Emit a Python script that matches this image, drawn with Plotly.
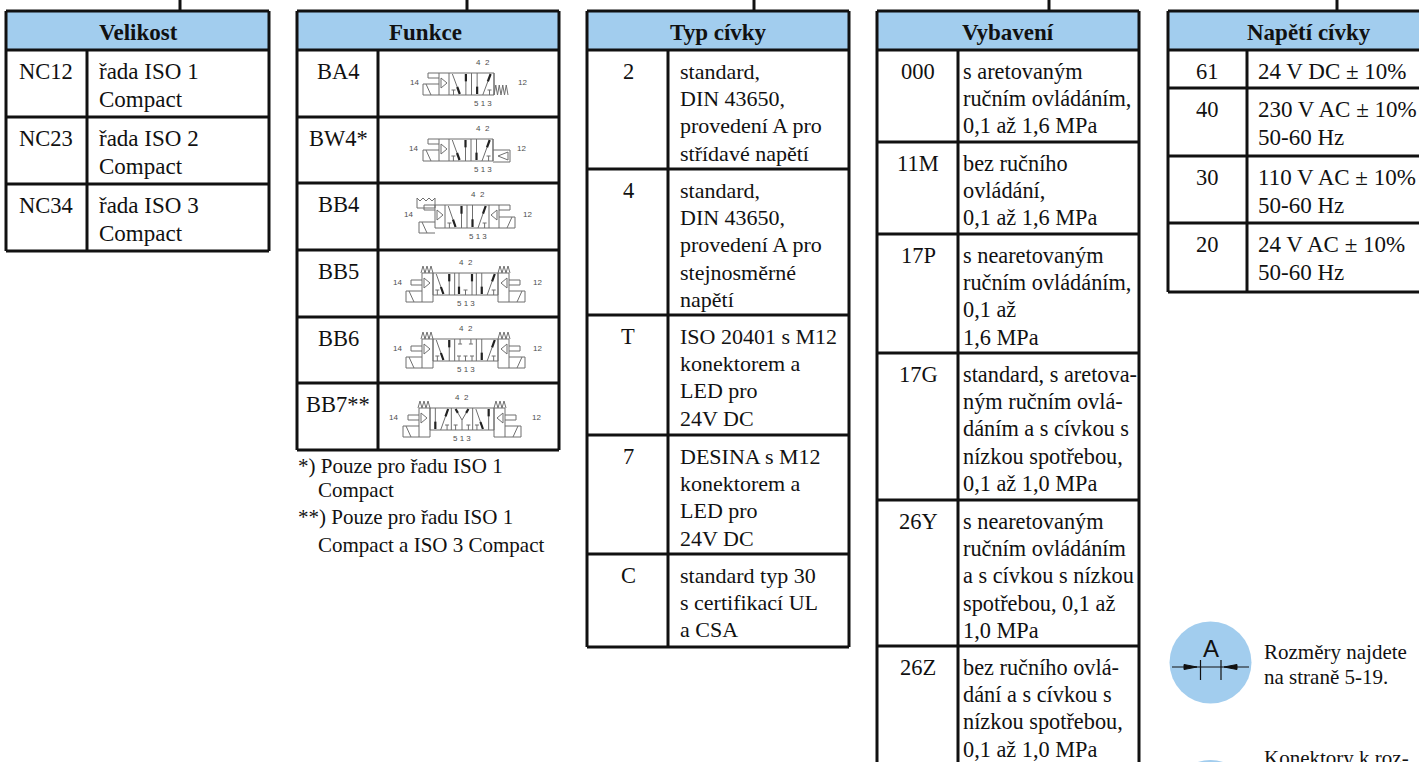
import plotly.graph_objects as go

W, H = 1419, 762
BLUE = "#a2cdee"
INK = "#111111"
GREY = "#6f6f6f"
SERIF = "Liberation Serif"

# ---- table content ----
velikost_codes = ["NC12", "NC23", "NC34"]
velikost_text = [["řada ISO 1", "Compact"], ["řada ISO 2", "Compact"], ["řada ISO 3", "Compact"]]
funkce_codes = ["BA4", "BW4*", "BB4", "BB5", "BB6", "BB7**"]
typ_codes = ["2", "4", "T", "7", "C"]
typ_text = [
    ["standard,", "DIN 43650,", "provedení A pro", "střídavé napětí"],
    ["standard,", "DIN 43650,", "provedení A pro", "stejnosměrné", "napětí"],
    ["ISO 20401 s M12", "konektorem a", "LED pro", "24V DC"],
    ["DESINA s M12", "konektorem a", "LED pro", "24V DC"],
    ["standard typ 30", "s certifikací UL", "a CSA"],
]
vybaveni_codes = ["000", "11M", "17P", "17G", "26Y", "26Z"]
vybaveni_text = [
    ["s aretovaným", "ručním ovládáním,", "0,1 až 1,6 MPa"],
    ["bez ručního", "ovládání,", "0,1 až 1,6 MPa"],
    ["s nearetovaným", "ručním ovládáním,", "0,1 až", "1,6 MPa"],
    ["standard, s aretova-", "ným ručním ovlá-", "dáním a s cívkou s", "nízkou spotřebou,", "0,1 až 1,0 MPa"],
    ["s nearetovaným", "ručním ovládáním", "a s cívkou s nízkou", "spotřebou, 0,1 až", "1,0 MPa"],
    ["bez ručního ovlá-", "dání a s cívkou s", "nízkou spotřebou,", "0,1 až 1,0 MPa"],
]
napeti_codes = ["61", "40", "30", "20"]
napeti_text = [
    ["24 V DC ± 10%"],
    ["230 V AC ± 10%", "50-60 Hz"],
    ["110 V AC ± 10%", "50-60 Hz"],
    ["24 V AC ± 10%", "50-60 Hz"],
]
footnotes = ["*) Pouze pro řadu ISO 1", "Compact", "**) Pouze pro řadu ISO 1", "Compact a ISO 3 Compact"]
side_notes = [["Rozměry najdete", "na straně 5-19."], ["Konektory k roz-"]]

# ---- layout constants ----
TABLES = [
    dict(title="Velikost", x0=6, x1=269, split=87, rows=[50, 117, 184, 251], tick=180, tc=138, cc=46, size=23,
         codes=velikost_codes, text=velikost_text, tx=98, pitch=28),
    dict(title="Funkce", x0=297, x1=559, split=378, rows=[50, 117, 183, 250, 317, 383, 450], tick=467, tc=425, cc=338, size=22,
         codes=funkce_codes, text=None, tx=0, pitch=0),
    dict(title="Typ cívky", x0=587, x1=849, split=668, rows=[50, 169, 315, 435, 554, 647], tick=754, tc=718, cc=628, size=22,
         codes=typ_codes, text=typ_text, tx=679, pitch=27.2),
    dict(title="Vybavení", x0=877, x1=1139, split=958, rows=[50, 142, 234, 353, 500, 646, 790], tick=1049, tc=1008, cc=918, size=22.3,
         codes=vybaveni_codes, text=vybaveni_text, tx=962, pitch=27.2),
    dict(title="Napětí cívky", x0=1168, x1=1440, split=1247, rows=[50, 88, 156, 223, 292], tick=1337, tc=1309, cc=1207, size=23,
         codes=napeti_codes, text=napeti_text, tx=1257, pitch=28),
]
HEAD_SIZE = 23
CODE_SIZE = 22.5
NOTE_SIZE = 21

shapes, annos = [], []


def line(x0, y0, x1, y1, w=3, c=INK):
    shapes.append(dict(type="line", xref="x", yref="y", x0=x0, y0=y0, x1=x1, y1=y1,
                       line=dict(color=c, width=w)))


def text(x, y, s, size=22, anchor="left", bold=False, color=INK, family=SERIF):
    t = f"<b>{s}</b>" if bold else s
    annos.append(dict(x=x, y=y, xref="x", yref="y", text=t, showarrow=False, xanchor=anchor,
                      yanchor="middle", align=anchor, borderpad=0,
                      font=dict(family=family, size=size, color=color)))


for t in TABLES:
    rows = t["rows"]
    bottom = min(rows[-1], H + 10)
    shapes.append(dict(type="rect", xref="x", yref="y", x0=t["x0"], x1=t["x1"], y0=11, y1=rows[0],
                       fillcolor=BLUE, line=dict(width=0), layer="below"))
    line(t["tick"], -2, t["tick"], 11)
    line(t["x0"], 11, t["x1"], 11)
    line(t["x0"], 11, t["x0"], bottom)
    line(t["x1"], 11, t["x1"], bottom)
    line(t["split"], rows[0], t["split"], bottom)
    for y in rows:
        line(t["x0"], y, t["x1"], y)
    text(t["tc"], 32, t["title"], size=HEAD_SIZE, anchor="center", bold=True)
    for i, code in enumerate(t["codes"]):
        top = rows[i]
        text(t["cc"], top + 21.5, code, size=CODE_SIZE, anchor="center")
        if t["text"]:
            for j, s in enumerate(t["text"][i]):
                text(t["tx"], top + 21.5 + j * t["pitch"], s, size=t["size"])

# ---- valve symbols in Funkce ----
vx, vy = [], []
ax, ay = [], []


def seg(*pts):
    for p in pts:
        vx.append(p[0]); vy.append(p[1])
    vx.append(None); vy.append(None)


def arrow(x0, y0, x1, y1):
    seg((x0, y0), (x1, y1))
    ax.extend([x1 - (x1 - x0) * 0.35, x1, None]); ay.extend([y1 - (y1 - y0) * 0.35, y1, None])


def port(x, bot):
    seg((x - 2, bot - 5), (x + 2, bot - 5))
    seg((x, bot - 5), (x, bot))


def cell_cross(x, w, top, bot):
    arrow(x + w * 0.15, top + 1, x + w * 0.48, bot - 1)
    port(x + w * 0.2, bot)
    arrow(x + w * 0.75, bot, x + w * 0.75, top + 1)


def cell_cross_r(x, w, top, bot):
    arrow(x + w * 0.25, top, x + w * 0.25, bot - 1)
    arrow(x + w * 0.5, bot, x + w * 0.85, top + 1)
    port(x + w * 0.8, bot)


def cell_mid(x, w, top, bot, kind):
    if kind == "open":
        arrow(x + w * 0.2, top, x + w * 0.2, bot - 1)
        arrow(x + w * 0.8, bot, x + w * 0.8, top + 1)
        port(x + w * 0.5, bot)
    elif kind == "closed":
        for f in (0.25, 0.75):
            seg((x + w * f, top), (x + w * f, top + 5))
            seg((x + w * f - 2, top + 5), (x + w * f + 2, top + 5))
        for f in (0.2, 0.5, 0.8):
            port(x + w * f, bot)
    else:
        arrow(x + w * 0.5, bot - 10, x + w * 0.2, top + 1)
        arrow(x + w * 0.5, bot - 10, x + w * 0.8, top + 1)
        seg((x + w * 0.5, bot), (x + w * 0.5, bot - 10))
        port(x + w * 0.2, bot); port(x + w * 0.8, bot)


def zigzag(x0, x1, y0, y1, n=4):
    dx = (x1 - x0) / (2 * n)
    seg(*[(x0 + k * dx, y1 if k % 2 else y0) for k in range(2 * n + 1)])


def actuator(edge, s, top, bot, blk, sol_w, low, spring):
    """Pilot + solenoid beside a body edge; s=-1 left, s=+1 right."""
    e = edge
    if blk:
        seg((e, top), (e + s * blk, top), (e + s * blk, bot + low), (e, bot + low), (e, bot))
        e = e + s * blk
        py0, py1 = top + 7, top + 12
        base = e - s * 2
    else:
        py0, py1 = top, top + 5
        base = edge - s * 2
    far = e + s * sol_w
    seg((e, bot + low), (far, bot + low), (far, bot + low - 11), (e, bot + low - 11))
    seg((far - s * 8, bot + low), (far - s * 3, bot + low - 11))
    seg((e, py0), (e + s * (sol_w - 5), py0), (e + s * (sol_w - 5), py1), (e, py1))
    tip = base - s * 6
    mid = top + 10
    seg((base, mid - 5), (tip, mid), (base, mid + 5), (base, mid - 5))
    if spring:
        zigzag(edge + s * 12, edge, top, top - 7, 3)


def valve(x0, x1, top, bot, cells, left_blk, right, sp, lab, l14, r12, crown=False):
    seg((x0, top), (x1, top), (x1, bot), (x0, bot), (x0, top))
    narrow = 0 if left_blk else 10
    ix0 = x0 + narrow
    ix1 = x1 - (narrow if right == "solenoid" else 0)
    seg((ix0, top), (ix0, bot))
    seg((ix1, top), (ix1, bot))
    n = len(cells)
    w = (ix1 - ix0) / n
    for k, kind in enumerate(cells):
        c = ix0 + k * w
        if k:
            seg((c, top), (c, bot))
        if kind == "L":
            cell_cross(c, w, top, bot)
        elif kind == "R":
            cell_cross_r(c, w, top, bot)
        else:
            cell_mid(c, w, top, bot, kind)
    actuator(x0, -1, top, bot, left_blk, 16, 5 if crown else (7 if left_blk else 0), sp)
    if right == "spring":
        zigzag(x1, x1 + 14, bot, bot - 10, 4)
    elif right == "air":
        seg((x1, bot - 11), (x1 + 17, bot - 11), (x1 + 17, bot + 1), (x1, bot + 1))
        seg((x1 + 15, bot - 9), (x1 + 5, bot - 5), (x1 + 15, bot - 1), (x1 + 15, bot - 9))
    else:
        actuator(x1, 1, top, bot, left_blk, 16, 7 if left_blk else 0, sp)
    if crown:
        bx = x0 - 18
        seg((bx, top + 3), (x0, top + 3), (x0, top - 7), (x0 - 3, top - 4), (x0 - 6, top - 7), (x0 - 9, top - 4),
            (x0 - 12, top - 7), (x0 - 15, top - 4), (bx, top - 7), (bx, top + 3))
    c = "#4d4d4d"
    f = "Liberation Sans"
    text(lab, top - 11, "4  2", size=8, anchor="center", color=c, family=f)
    text(lab, bot + 8, "5 1 3", size=8, anchor="center", color=c, family=f)
    text(l14, (top + bot) / 2 - 2, "14", size=8, anchor="center", color=c, family=f)
    text(r12, (top + bot) / 2 - 2, "12", size=8, anchor="center", color=c, family=f)


valve(439, 494, 73, 95, ["L", "R"], 0, "spring", False, 483, 414, 522)
valve(439, 493, 139, 161, ["L", "R"], 0, "air", False, 483, 413, 521)
valve(435, 499, 205, 228, ["L", "R"], 0, "solenoid", False, 478, 408, 527, crown=True)
valve(433, 498, 273, 295, ["L", "open", "R"], 11, "solenoid", True, 466, 397, 537)
valve(433, 498, 339, 361, ["L", "closed", "R"], 11, "solenoid", True, 466, 397, 537)
valve(430, 494, 408, 430, ["R", "tee", "L"], 11, "solenoid", True, 462, 393, 536)

fig = go.Figure()
fig.add_trace(go.Scatter(x=vx, y=vy, mode="lines", line=dict(color=GREY, width=1), hoverinfo="skip", showlegend=False))
fig.add_trace(go.Scatter(x=ax, y=ay, mode="lines", line=dict(color="#222222", width=2.2), hoverinfo="skip", showlegend=False))

# ---- footnotes ----
text(297, 466, footnotes[0], size=NOTE_SIZE)
text(317, 490, footnotes[1], size=NOTE_SIZE)
text(297, 517, footnotes[2], size=NOTE_SIZE)
text(317, 545, footnotes[3], size=NOTE_SIZE)

# ---- side icons ----
for cy in (662.5, 801):
    shapes.append(dict(type="circle", xref="x", yref="y", x0=1169.5, x1=1251.5, y0=cy - 41, y1=cy + 41,
                       fillcolor=BLUE, line=dict(width=0), layer="below"))
text(1210.5, 648, "A", size=24, anchor="center", family="Liberation Sans")
line(1172, 667, 1249, 667, w=1.2)
line(1200.5, 660, 1200.5, 680, w=1.2)
line(1221, 660, 1221, 680, w=1.2)
shapes.append(dict(type="path", path="M 1184 664.5 L 1197 667 L 1184 669.5 Z", fillcolor=INK, line=dict(width=1, color=INK), xref="x", yref="y"))
shapes.append(dict(type="path", path="M 1237 664.5 L 1224 667 L 1237 669.5 Z", fillcolor=INK, line=dict(width=1, color=INK), xref="x", yref="y"))
text(1263, 652, side_notes[0][0], size=NOTE_SIZE)
text(1263, 677, side_notes[0][1], size=NOTE_SIZE)
text(1263, 758, side_notes[1][0], size=NOTE_SIZE)

fig.update_layout(
    width=W, height=H, margin=dict(l=0, r=0, t=0, b=0), paper_bgcolor="white", plot_bgcolor="white",
    xaxis=dict(range=[0, W], visible=False, fixedrange=True),
    yaxis=dict(range=[H, 0], visible=False, fixedrange=True),
    shapes=shapes, annotations=annos, showlegend=False,
)
fig.write_html("out.html", config=dict(displayModeBar=False),
               post_script="document.body.style.margin='0';document.documentElement.style.overflow='hidden';")
